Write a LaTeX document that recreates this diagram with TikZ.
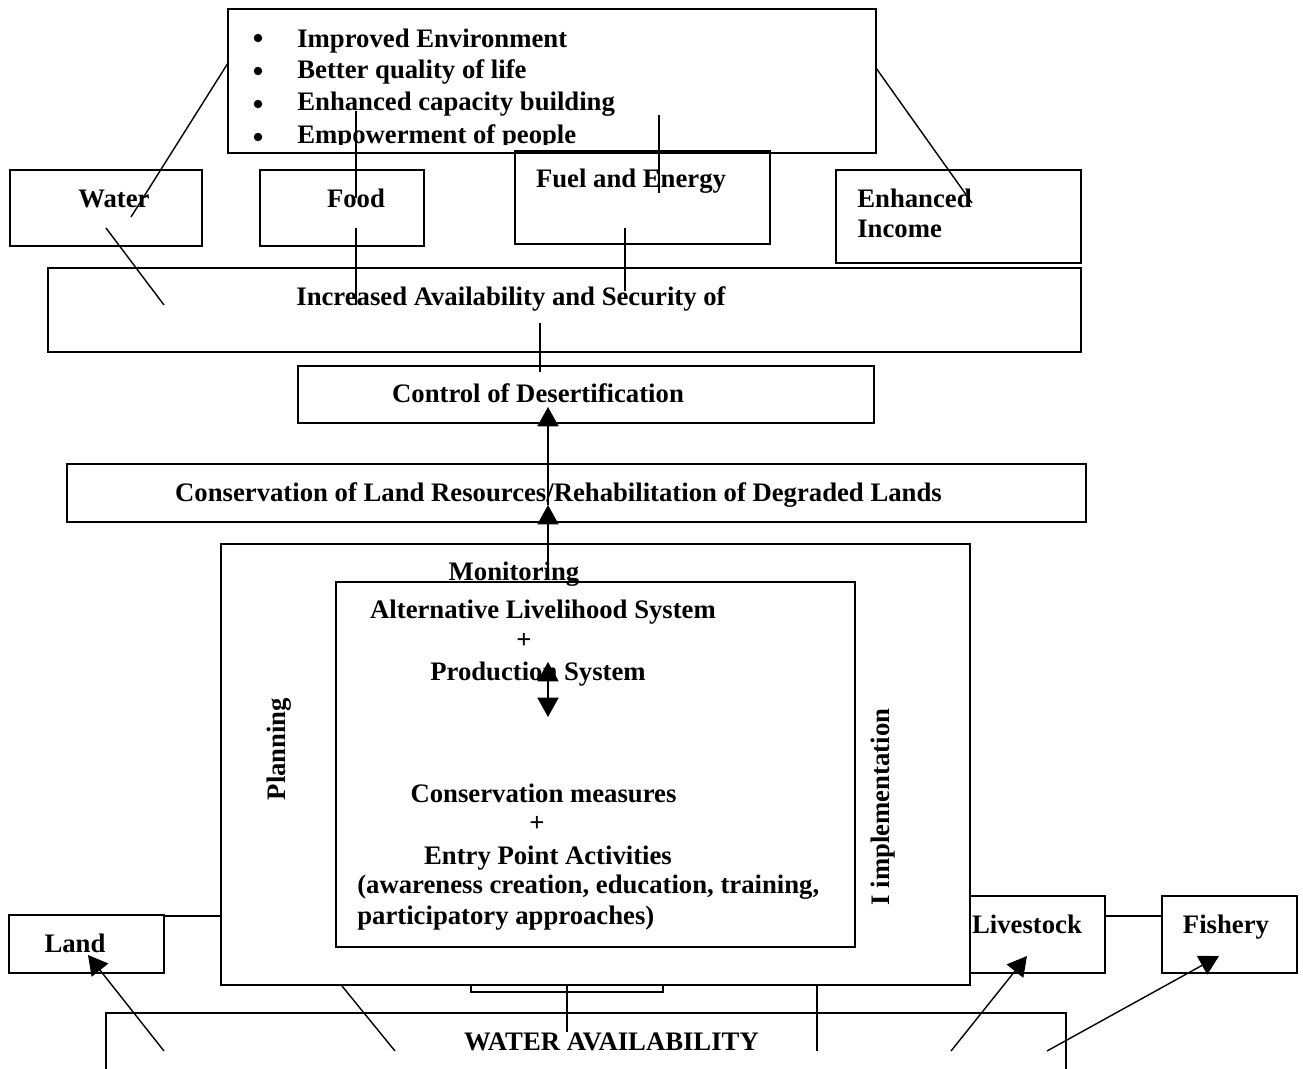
\documentclass[tikz,border=0pt]{standalone}
\usepackage{fontspec}
\setmainfont{Liberation Serif}
\usepackage{tikz}
\usetikzlibrary{arrows.meta}

\begin{document}
\begin{tikzpicture}[x=0.02cm, y=-0.02cm,
  box/.style={draw, line width=1.1pt, inner sep=0pt},
  txt/.style={font=\fontsize{15.2}{17.6}\selectfont\bfseries, inner sep=0pt, anchor=base},
  dot/.style={circle, fill, inner sep=0pt, minimum size=0.17cm},
  link/.style={line width=0.8pt},
  arr/.style={line width=0.8pt, -{Triangle[length=11pt, width=12pt]}}]
  \useasboundingbox (0,0) rectangle (1303,1069);

  % Goals
  \node[box, minimum width=12.96cm, minimum height=2.88cm] (goals) at (552,81) {};
  \begin{scope}
    \clip (228,9) rectangle (876,144);
    \node[dot] (b1) at (258,38) {};
    \node[dot] (b2) at (258,71) {};
    \node[dot] (b3) at (258,104) {};
    \node[dot] (b4) at (258,137) {};
    \node[txt, anchor=base west] (g1) at (297,47) {Improved Environment};
    \node[txt, anchor=base west] (g2) at (297,78) {Better quality of life};
    \node[txt, anchor=base west] (g3) at (297,110) {Enhanced capacity building};
    \node[txt, anchor=base west] (g4) at (297,143) {Empowerment of people};
  \end{scope}

  % Securities
  \node[box, minimum width=3.84cm, minimum height=1.52cm] (water) at (106,208) {};
  \node[box, minimum width=3.28cm, minimum height=1.52cm] (food) at (342,208) {};
  \node[box, minimum width=5.10cm, minimum height=1.86cm] (fuel) at (642.5,197.5) {};
  \node[box, minimum width=4.90cm, minimum height=1.86cm] (income) at (958.5,216.5) {};
  \node[txt] (watert) at (114,207) {Water};
  \node[txt] (foodt) at (356,207) {Food};
  \node[txt] (fuelt) at (631,187) {Fuel and Energy};
  \node[txt, anchor=base west] (incomet1) at (857,207) {Enhanced};
  \node[txt, anchor=base west] (incomet2) at (857,237) {Income};

  \node[box, minimum width=20.66cm, minimum height=1.68cm] (avail) at (564.5,310) {};
  \node[txt] (availt) at (511,305) {Increased Availability and Security of};

  \node[box, minimum width=11.52cm, minimum height=1.14cm] (control) at (586,394.5) {};
  \node[txt] (controlt) at (538,402) {Control of Desertification};

  \node[box, minimum width=20.38cm, minimum height=1.16cm] (conserv) at (576.5,493) {};
  \node[txt] (conservt) at (558.5,501) {Conservation of Land Resources/Rehabilitation of Degraded Lands};

  % Management cycle
  \node[box, minimum width=3.84cm, minimum height=0.44cm] (small) at (567,981) {};
  \node[box, fill=white, minimum width=14.98cm, minimum height=8.82cm] (outer) at (595.5,764.5) {};
  \node[box, minimum width=10.38cm, minimum height=7.30cm] (inner) at (595.5,764.5) {};
  \node[txt] (monit) at (514,580) {Monitoring};
  \node[txt, rotate=90] (plan) at (285,749) {Planning};
  \node[txt, rotate=90] (impl) at (889,807) {I implementation};
  \node[txt] (alt) at (543,618) {Alternative Livelihood System};
  \node[txt] (plus1) at (524,648) {+};
  \node[txt] (prod) at (538,680) {Production System};
  \node[txt] (cmeas) at (543.5,802) {Conservation measures};
  \node[txt] (plus2) at (537,831) {+};
  \node[txt] (entry) at (548,864) {Entry Point Activities};
  \node[txt, anchor=base west] (aware) at (357,893) {(awareness creation, education, training,};
  \node[txt, anchor=base west] (partic) at (357,924) {participatory approaches)};

  % Resources
  \node[box, minimum width=3.10cm, minimum height=1.16cm] (land) at (86.5,944) {};
  \node[box, minimum width=2.70cm, minimum height=1.54cm] (live) at (1037.5,934.5) {};
  \node[box, minimum width=2.70cm, minimum height=1.54cm] (fish) at (1229.5,934.5) {};
  \node[txt] (landt) at (75,952) {Land};
  \node[txt] (livet) at (1027,933) {Livestock};
  \node[txt] (fisht) at (1226,933) {Fishery};

  \node[box, minimum width=19.2cm, minimum height=2.0cm] (wavail) at (586,1063) {};
  \node[txt] (wavailt) at (611.5,1050) {WATER AVAILABILITY};

  % Free ends
  \coordinate (p1) at (228,63);   \coordinate (p2) at (131,217);
  \coordinate (p3) at (106,228);  \coordinate (p4) at (164,305);
  \coordinate (p5) at (356,111);  \coordinate (p6) at (356,198);
  \coordinate (p7) at (356,228);  \coordinate (p8) at (356,305);
  \coordinate (p9) at (625,228);  \coordinate (p10) at (625,291);
  \coordinate (p11) at (659,115); \coordinate (p12) at (659,193);
  \coordinate (p13) at (876,68);  \coordinate (p14) at (972,203);
  \coordinate (p15) at (540,323); \coordinate (p16) at (540,372);
  \coordinate (q1) at (548,407);  \coordinate (q2) at (548,505);
  \coordinate (q3) at (548,580);
  \coordinate (q4) at (548,662);  \coordinate (q5) at (548,717);
  \coordinate (r1) at (164,916);  \coordinate (r2) at (1105,916);
  \coordinate (r3) at (1162,916);
  \coordinate (s1) at (342,986);  \coordinate (s2) at (395,1051);
  \coordinate (s3) at (567,986);  \coordinate (s4) at (567,1032);
  \coordinate (s5) at (817,986);  \coordinate (s6) at (817,1051);
  \coordinate (t1) at (164,1051); \coordinate (t2) at (88,955);
  \coordinate (t3) at (951,1051); \coordinate (t4) at (1027,956);
  \coordinate (t5) at (1047,1051);\coordinate (t6) at (1219,956);

  % Lines
  \draw[link] (p1) -- (p2);
  \draw[link] (p3) -- (p4);
  \draw[link] (p5) -- (p6);
  \draw[link] (p7) -- (p8);
  \draw[link] (p9) -- (p10);
  \draw[link] (p11) -- (p12);
  \draw[link] (p13) -- (p14);
  \draw[link] (p15) -- (p16);
  \draw[link] (r1) -- (r1 -| outer.west);
  \draw[link] (r2) -- (r3);
  \draw[link] (s1) -- (s2);
  \draw[link] (s3) -- (s4);
  \draw[link] (s5) -- (s6);

  % Arrows
  \draw[arr] (q2) -- (q1);
  \draw[arr] (q3) -- (q2);
  \draw[arr, {Triangle[length=11pt, width=12pt]}-{Triangle[length=11pt, width=12pt]}] (q4) -- (q5);
  \draw[arr] (t1) -- (t2);
  \draw[arr] (t3) -- (t4);
  \draw[arr] (t5) -- (t6);
\end{tikzpicture}
\end{document}
